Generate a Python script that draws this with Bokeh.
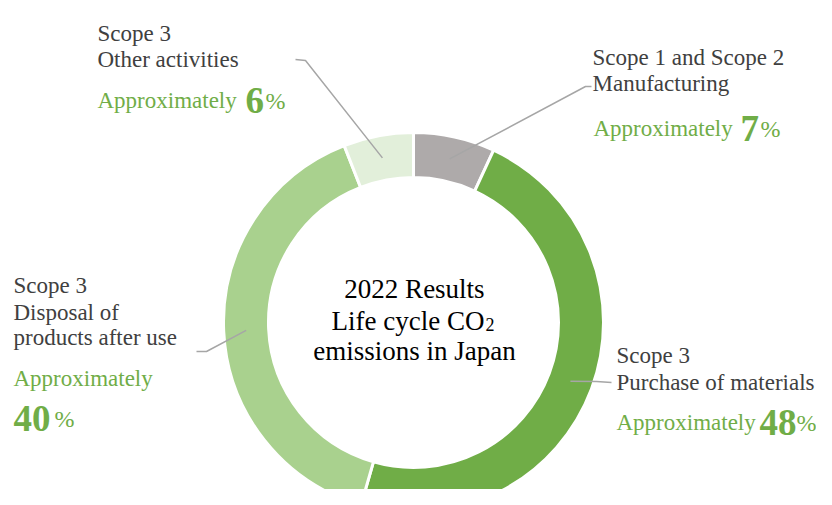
import numpy as np
from bokeh.plotting import figure
from bokeh.models import Range1d
from bokeh.core.properties import value
from bokeh.embed import file_html
from bokeh.resources import INLINE

# ---- data ----
categories = ["Scope 1 and Scope 2 Manufacturing", "Scope 3 Purchase of materials",
              "Scope 3 Disposal of products after use", "Scope 3 Other activities"]
percent = [7, 48, 40, 6]
label_lines = [["Scope 1 and Scope 2", "Manufacturing"],
               ["Scope 3", "Purchase of materials"],
               ["Scope 3", "Disposal of", "products after use"],
               ["Scope 3", "Other activities"]]
approx_word = "Approximately"
center_lines = ["2022 Results", "Life cycle CO", "emissions in Japan"]
colors = ["#AEAAAA", "#70AD47", "#A9D18E", "#E2EFDA"]

# ---- layout ----
W, H = 816, 489
def Y(sy):
    return H - sy

FONT = value("Liberation Serif")
GRAY_TXT = "#404040"
GREEN_TXT = "#70AD47"

p = figure(width=W, height=H, output_backend="svg", toolbar_location=None,
           x_range=Range1d(0, W), y_range=Range1d(0, H),
           min_border=0, outline_line_color=None)
p.axis.visible = False
p.grid.visible = False
p.background_fill_color = "white"
p.border_fill_color = "white"

CX, CY = 413, Y(322)
R_OUT, R_IN = 190, 145
R_MID = (R_OUT + R_IN) / 2

frac = np.array(percent, dtype=float) / sum(percent)
cum = np.concatenate([[0], np.cumsum(frac)])
start = np.pi / 2 - 2 * np.pi * cum[:-1]
end = np.pi / 2 - 2 * np.pi * cum[1:]

p.annular_wedge(x=CX, y=CY, inner_radius=R_IN, outer_radius=R_OUT,
                start_angle=list(start), end_angle=list(end), direction="clock",
                fill_color=colors, line_color="white", line_width=3)

# leader lines: from wedge middle to elbow to end
elbows = [[(585, 86), (591, 86)],
          [(596, 381), (611, 382)],
          [(206, 351), (196, 351)],
          [(305, 60), (295, 59)]]
xs, ys = [], []
for i in range(len(percent)):
    m = np.pi / 2 - 2 * np.pi * (cum[i] + frac[i] / 2)
    ax, ay = CX + R_MID * np.cos(m), CY + R_MID * np.sin(m)
    lx = [ax] + [e[0] for e in elbows[i]]
    ly = [ay] + [Y(e[1]) for e in elbows[i]]
    xs.append(lx); ys.append(ly)
p.multi_line(xs=xs, ys=ys, line_color="#A6A6A6", line_width=1.5)

# label positions (screen coords)
label_x = [592, 616, 13, 97]
line_base = [[57, 83], [355, 382], [285, 312, 337], [33, 59]]
approx_pos = [(593, 128), (616, 422), (13, 378), (97, 100)]
num_pos = [(740, 128), (759, 422), (13, 418), (245, 100)]
pct_pos = [(760, 128), (796, 422), (54, 418), (265, 100)]

for i in range(len(percent)):
    for txt, b in zip(label_lines[i], line_base[i]):
        p.text(x=[label_x[i]], y=[Y(b)], text=[txt], text_font=FONT,
               text_font_size="23px", text_color=GRAY_TXT,
               text_baseline="alphabetic", text_align="left")
    p.text(x=[approx_pos[i][0]], y=[Y(approx_pos[i][1])], text=[approx_word],
           text_font=FONT, text_font_size="23px", text_color=GREEN_TXT,
           text_baseline="alphabetic", text_align="left")
    p.text(x=[num_pos[i][0]], y=[Y(num_pos[i][1])], text=[str(percent[i])],
           text_font=FONT, text_font_size="37px", text_font_style="bold",
           text_color=GREEN_TXT, text_baseline="alphabetic", text_align="left")
    p.text(x=[pct_pos[i][0]], y=[Y(pct_pos[i][1])], text=["%"],
           text_font=FONT, text_font_size="24px", text_color=GREEN_TXT,
           text_baseline="alphabetic", text_align="left")

# center text
p.text(x=[414], y=[Y(288)], text=[center_lines[0]], text_font=FONT,
       text_font_size="27px", text_color="black", text_align="center",
       text_baseline="alphabetic")
p.text(x=[484], y=[Y(320)], text=[center_lines[1]], text_font=FONT,
       text_font_size="27px", text_color="black", text_align="right",
       text_baseline="alphabetic")
p.text(x=[485], y=[Y(324)], text=["2"], text_font=FONT,
       text_font_size="18px", text_color="black", text_align="left",
       text_baseline="alphabetic")
p.text(x=[414], y=[Y(350)], text=[center_lines[2]], text_font=FONT,
       text_font_size="27px", text_color="black", text_align="center",
       text_baseline="alphabetic")

open("out.html", "w").write(file_html(p, INLINE))
